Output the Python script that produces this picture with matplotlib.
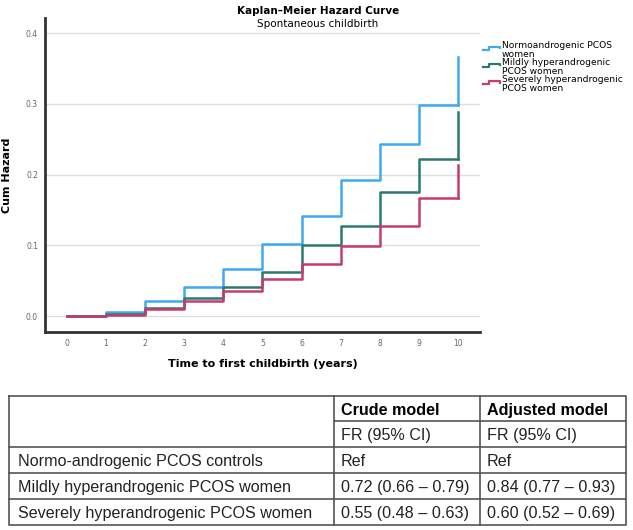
import matplotlib
matplotlib.use('Agg')
import matplotlib.pyplot as plt
from matplotlib.legend_handler import HandlerBase
from matplotlib.lines import Line2D

plt.rcParams['font.family'] = ['DejaVu Sans']

# cumulative hazard, at years 0..10
years = [0, 1, 2, 3, 4, 5, 6, 7, 8, 9, 10]
normo = [0, 0.005, 0.021, 0.041, 0.067, 0.102, 0.142, 0.192, 0.243, 0.298, 0.366]
mild = [0, 0.003, 0.012, 0.025, 0.041, 0.062, 0.100, 0.127, 0.176, 0.222, 0.289]
severe = [0, 0.002, 0.010, 0.021, 0.036, 0.053, 0.074, 0.099, 0.128, 0.167, 0.213]

labels = ['Normoandrogenic PCOS\nwomen',
          'Mildly hyperandrogenic\nPCOS women',
          'Severely hyperandrogenic\nPCOS women']
colors = ['#3FA9F2', '#2B7A6F', '#C63A6D']

# table contents
col_heads = ['Crude model', 'Adjusted model']
sub_heads = ['FR (95% CI)', 'FR (95% CI)']
row_names = ['Normo-androgenic PCOS controls',
             'Mildly hyperandrogenic PCOS women',
             'Severely hyperandrogenic PCOS women']
crude = ['Ref', '0.72 (0.66 \u2013 0.79)', '0.55 (0.48 \u2013 0.63)']
adjusted = ['Ref', '0.84 (0.77 \u2013 0.93)', '0.60 (0.52 \u2013 0.69)']


class StepHandler(HandlerBase):
    def create_artists(self, legend, orig_handle, xdescent, ydescent,
                       width, height, fontsize, trans):
        w = width
        xs = [0, w * 0.35, w * 0.35, w, w]
        ys = [height * 0.55, height * 0.55, height * 1.05, height * 1.05, height * 0.8]
        ln = Line2D(xs, ys, color=orig_handle.get_color(), lw=1.6, transform=trans)
        return [ln]


W, H = 633, 530
fig = plt.figure(figsize=(W / 100, H / 100), dpi=100)
ax = fig.add_axes([45 / W, 1 - 332 / H, 435 / W, 314 / H])

handles = []
for vals, c, lab in zip([normo, mild, severe], colors, labels):
    # last jump at t=10 drawn as a vertical end segment
    l, = ax.step(years, vals[:-1] + [vals[-2]], where='post', color=c, lw=1.8)
    ax.plot([years[-1], years[-1]], [vals[-2], vals[-1]], color=c, lw=1.8)
    l.set_label(lab)
    handles.append(l)

ax.set_xlim(-0.555, 10.56)
ax.set_ylim(-0.0226, 0.4216)
ax.set_xticks(range(0, 11))
ax.set_yticks([0, 0.1, 0.2, 0.3, 0.4])
ax.set_yticklabels(['0.0', '0.1', '0.2', '0.3', '0.4'])
ax.tick_params(length=0, labelsize=5.5, labelcolor='#666666', pad=5)
ax.grid(axis='y', color='#dddddd', lw=1)
ax.set_axisbelow(True)
for s in ['top', 'right']:
    ax.spines[s].set_visible(False)
for s in ['left', 'bottom']:
    ax.spines[s].set_linewidth(2)
    ax.spines[s].set_color('#333333')

ax.set_xlabel('Time to first childbirth (years)', fontsize=8, fontweight='bold', labelpad=8)
ax.set_ylabel('Cum Hazard', fontsize=8, fontweight='bold', labelpad=10)

fig.text(318 / W, 1 - 11 / H, 'Kaplan\u2013Meier Hazard Curve', ha='center', va='center',
         fontsize=7.5, fontweight='bold')
fig.text(318 / W, 1 - 24 / H, 'Spontaneous childbirth', ha='center', va='center', fontsize=7.5)

leg = fig.legend(handles=handles, labels=labels, handler_map={Line2D: StepHandler()},
                 loc='upper left', bbox_to_anchor=(483 / W, 1 - 41 / H), frameon=False,
                 fontsize=6.6, handlelength=1.8, handletextpad=0.25, labelspacing=-0.1,
                 borderaxespad=0, borderpad=0)
for t in leg.get_texts():
    t.set_linespacing(1.0)

# table drawn in pixel coordinates
tab = fig.add_axes([0, 0, 1, 1])
tab.set_xlim(0, W)
tab.set_ylim(H, 0)
tab.axis('off')
lc = '#555555'
x0, x1, x2, x3 = 9, 334, 480, 626
ytop, ysub, yhead, ybot = 396, 421, 447, 525
rows_y = [447, 473, 499, 525]
lw = 1.2
tab.plot([x0, x3, x3, x0, x0], [ytop, ytop, ybot, ybot, ytop], color=lc, lw=lw)
tab.plot([x1, x1], [ytop, ybot], color=lc, lw=lw)
tab.plot([x2, x2], [ytop, ybot], color=lc, lw=lw)
tab.plot([x1, x3], [ysub, ysub], color=lc, lw=lw)
for y in rows_y[:-1]:
    tab.plot([x0, x3], [y, y], color=lc, lw=lw)

tf = ['Liberation Sans', 'DejaVu Sans']
fs = 11.6
for i, (ch, sh) in enumerate(zip(col_heads, sub_heads)):
    xl = [x1, x2][i] + 7
    tab.text(xl, ytop + 14.5, ch, fontsize=fs, fontweight='bold', family=tf, va='center', ha='left')
    tab.text(xl, ysub + 14.5, sh, fontsize=fs, family=tf, va='center', ha='left', color='#222222')
for j, name in enumerate(row_names):
    yc = rows_y[j] + 14.5
    tab.text(x0 + 9, yc, name, fontsize=fs, family=tf, va='center', ha='left', color='#222222')
    tab.text(x1 + 7, yc, crude[j], fontsize=fs, family=tf, va='center', ha='left', color='#222222')
    tab.text(x2 + 7, yc, adjusted[j], fontsize=fs, family=tf, va='center', ha='left', color='#222222')

fig.savefig('out.png', dpi=100)
